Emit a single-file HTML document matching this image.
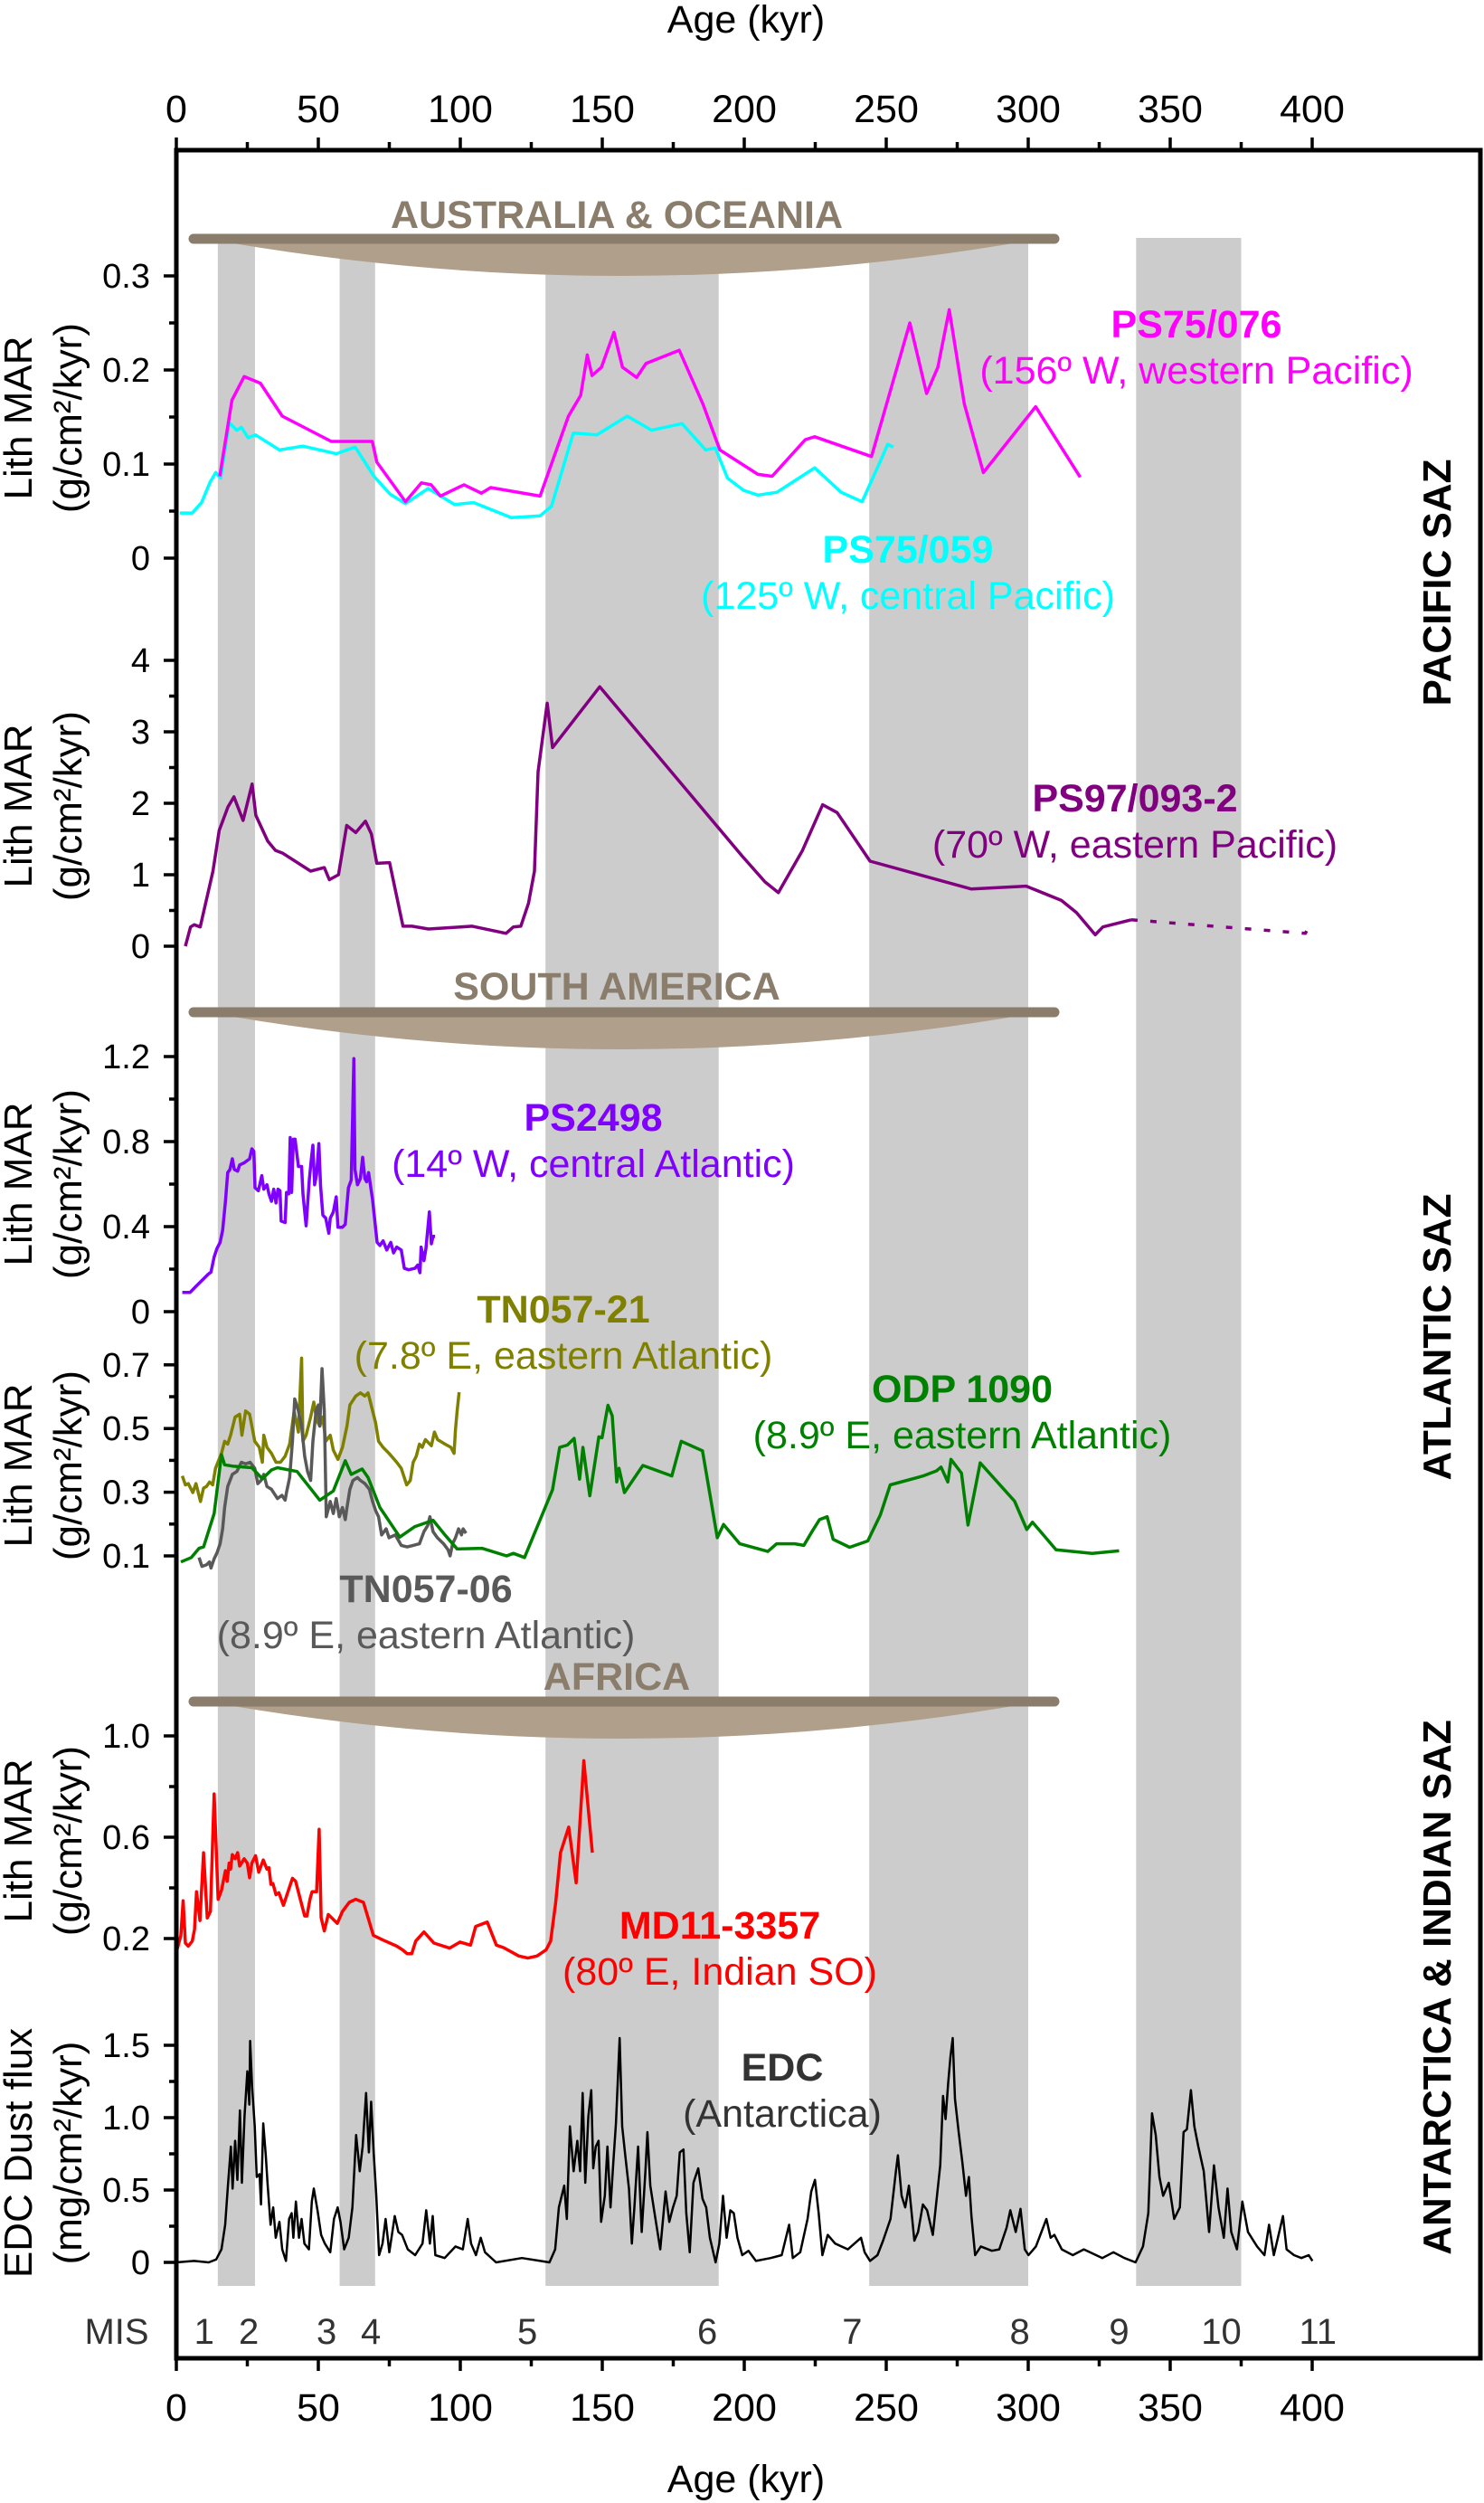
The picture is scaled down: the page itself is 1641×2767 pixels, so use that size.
<!DOCTYPE html>
<html><head><meta charset="utf-8"><style>
html,body{margin:0;padding:0;background:#fff}
svg{display:block;font-family:"Liberation Sans",Arial,sans-serif}
</style></head><body>
<svg id="chart" width="1641" height="2767" viewBox="0 0 1641 2767" xmlns="http://www.w3.org/2000/svg">
<g id="bands"></g>
<g id="bows"></g>
<g id="series"></g>
<g id="axes"></g>
<g id="labels"></g>
</svg>
<script>
// ---- data ----
const bandStarts=[14.6,57.5,130,244,338];
const bandEnds=[27.7,70,191,300,375];
const ageTicks=[0,50,100,150,200,250,300,350,400];
const misLabels=["1","2","3","4","5","6","7","8","9","10","11"];
const misAges=[9.8,25.5,52.9,68.5,123.6,187,238,297,332,368,402];

const ps076Age=[15.3,19.6,23.9,29.6,37.3,54.6,69.0,70.6,80.7,86.3,89.7,93.0,101.3,107.4,110.7,128.1,138.1,142.4,144.7,146.4,149.7,154.1,157.1,162.1,165.4,177.1,185.4,191.4,204.8,209.8,221.5,224.8,244.8,258.3,264.2,268.2,272.2,277.5,284.2,302.6,318.3];
const ps076Val=[0.087,0.168,0.193,0.186,0.151,0.124,0.124,0.102,0.060,0.080,0.078,0.066,0.078,0.069,0.075,0.066,0.151,0.173,0.216,0.194,0.203,0.240,0.203,0.192,0.207,0.221,0.164,0.115,0.089,0.087,0.126,0.129,0.108,0.250,0.175,0.203,0.264,0.164,0.091,0.161,0.086];
const ps059Age=[1.2,5.6,8.9,11.9,13.9,15.6,18.6,21.3,22.9,25.3,27.9,36.3,44.6,56.3,63.0,69.6,75.3,80.7,88.7,98.0,104.7,118.0,128.1,132.1,139.8,148.1,158.8,167.4,178.1,186.4,189.8,194.1,199.8,204.8,211.5,224.8,234.1,241.5,248.1,250.5,252.5];
const ps059Val=[0.048,0.048,0.059,0.081,0.091,0.085,0.144,0.136,0.139,0.128,0.131,0.115,0.119,0.111,0.118,0.087,0.068,0.058,0.074,0.057,0.059,0.043,0.045,0.055,0.133,0.131,0.151,0.136,0.143,0.115,0.117,0.085,0.072,0.067,0.070,0.096,0.070,0.060,0.104,0.121,0.118];
const ps97Age=[3.2,5.0,6.3,8.4,12.9,15.1,18.2,20.3,23.5,26.7,28.0,32.2,34.9,37.5,47.3,52.1,53.9,57.1,60.0,63.2,66.6,68.7,70.6,75.1,79.8,83.0,88.8,104.2,116.1,118.7,121.3,124.0,126.1,127.4,130.6,132.5,149.1,199.3,207.3,212.0,220.5,227.6,232.7,244.3,280.0,299.3,311.7,317.0,323.6,326.3,336.3];
const ps97Val=[0.0,0.27,0.30,0.27,1.05,1.62,1.95,2.09,1.76,2.27,1.83,1.47,1.34,1.30,1.05,1.10,0.93,1.00,1.69,1.59,1.75,1.57,1.16,1.17,0.28,0.28,0.24,0.28,0.18,0.27,0.28,0.60,1.05,2.44,3.40,2.78,3.63,1.26,0.90,0.75,1.34,1.98,1.87,1.19,0.80,0.84,0.64,0.47,0.16,0.27,0.37];
const ps97GapAge=[336.3,397.6,399.8];
const ps97GapVal=[0.37,0.18,0.35];
const ps2498Age=[2.1,4.8,6.9,9.0,11.2,12.2,13.3,14.3,15.4,16.3,17.3,18.1,18.9,19.7,20.4,21.6,22.3,23.9,25.0,25.8,26.6,27.3,27.7,28.9,30.1,30.8,31.9,32.6,33.5,34.3,35.1,35.8,36.5,36.9,38.3,38.8,39.6,40.1,40.6,41.2,41.8,43.0,44.1,44.6,45.7,46.8,47.5,48.1,48.7,49.4,50.2,50.8,51.6,52.6,53.7,54.2,55.3,56.3,56.9,58.5,59.5,60.6,61.6,62.5,62.9,63.8,64.8,65.6,66.4,67.0,67.7,69.1,70.7,71.7,72.8,74.1,75.5,76.5,77.6,79.2,80.3,81.8,84.0,85.0,85.8,86.2,87.2,87.9,89.1,89.8,90.4,91.1];
const ps2498Val=[0.090,0.090,0.119,0.147,0.176,0.186,0.257,0.297,0.326,0.383,0.519,0.654,0.669,0.719,0.669,0.661,0.690,0.700,0.711,0.719,0.766,0.754,0.583,0.569,0.640,0.576,0.597,0.554,0.519,0.576,0.511,0.576,0.569,0.426,0.419,0.561,0.554,0.819,0.561,0.811,0.811,0.683,0.683,0.554,0.404,0.619,0.711,0.783,0.597,0.647,0.790,0.590,0.454,0.440,0.369,0.440,0.469,0.540,0.397,0.397,0.411,0.583,0.619,1.190,0.669,0.597,0.626,0.726,0.626,0.611,0.654,0.526,0.326,0.311,0.333,0.290,0.326,0.276,0.304,0.290,0.204,0.197,0.204,0.219,0.183,0.304,0.240,0.297,0.469,0.319,0.354,0.354];
const tn21Age=[2.1,3.2,4.2,5.8,6.9,8.5,9.6,10.6,11.7,12.8,13.8,15.9,17.0,18.1,19.1,20.7,22.3,23.1,24.4,25.8,26.6,27.6,29.2,30.3,30.8,31.9,33.5,35.1,36.7,38.3,39.9,41.5,43.0,44.1,44.6,45.7,47.3,48.4,49.4,50.5,51.6,52.6,54.2,55.3,56.9,58.5,60.1,61.1,63.2,64.8,66.4,67.5,68.6,70.2,71.2,72.8,74.9,77.6,79.2,81.1,82.4,83.4,84.5,85.6,86.6,87.7,89.8,90.9,92.0,93.0,94.6,96.7,97.8,98.3,98.9,99.6];
const tn21Val=[0.351,0.323,0.327,0.299,0.327,0.271,0.313,0.318,0.332,0.323,0.375,0.422,0.460,0.451,0.479,0.536,0.545,0.479,0.555,0.545,0.508,0.460,0.441,0.394,0.479,0.441,0.422,0.394,0.394,0.413,0.451,0.555,0.489,0.721,0.460,0.479,0.536,0.583,0.527,0.508,0.536,0.460,0.479,0.432,0.403,0.441,0.508,0.574,0.602,0.612,0.602,0.612,0.574,0.517,0.460,0.441,0.422,0.394,0.375,0.323,0.337,0.394,0.413,0.451,0.441,0.465,0.446,0.489,0.465,0.460,0.451,0.441,0.422,0.498,0.555,0.614];
const tn06Age=[8.0,9.0,10.6,11.7,12.2,13.3,14.3,15.4,16.3,17.0,18.1,19.7,21.3,22.9,24.4,26.0,27.6,28.7,29.8,30.8,31.9,33.5,35.6,37.2,38.3,38.8,39.9,40.9,41.7,43.0,44.1,45.2,46.2,47.3,48.1,49.2,50.0,50.5,51.3,52.1,52.8,54.2,55.3,56.3,57.4,58.5,59.5,60.1,61.1,62.2,63.8,64.8,66.4,68.0,69.1,70.2,71.2,72.3,73.9,74.9,77.1,79.2,81.3,83.4,85.6,87.2,88.5,89.3,90.4,91.9,94.1,95.7,96.4,97.3,98.3,99.4,100.4,101.0,102.0];
const tn06Val=[0.095,0.067,0.072,0.081,0.062,0.091,0.109,0.138,0.185,0.252,0.318,0.356,0.365,0.394,0.389,0.394,0.375,0.327,0.337,0.356,0.318,0.309,0.280,0.290,0.275,0.299,0.346,0.460,0.593,0.555,0.508,0.413,0.365,0.337,0.460,0.555,0.574,0.508,0.688,0.555,0.223,0.271,0.233,0.280,0.223,0.252,0.214,0.252,0.309,0.337,0.346,0.337,0.327,0.309,0.271,0.242,0.223,0.166,0.185,0.157,0.166,0.133,0.128,0.133,0.138,0.176,0.195,0.223,0.176,0.157,0.138,0.119,0.100,0.138,0.157,0.185,0.166,0.185,0.171];
const odpAge=[1.6,5.3,8.0,9.6,13.3,15.9,17.0,19.7,26.6,30.3,31.9,33.5,35.6,42.5,50.5,55.3,59.5,61.6,65.4,67.5,71.7,78.7,84.0,90.4,94.6,98.9,107.6,116.3,118.7,122.6,132.5,135.0,137.7,140.1,142.0,143.2,145.6,148.8,149.9,152.0,153.5,155.1,155.9,157.8,164.3,174.5,177.8,185.3,190.5,192.7,198.4,208.3,211.4,217.8,221.0,224.1,226.5,229.2,231.3,237.1,243.5,247.9,251.4,263.0,267.7,269.3,271.7,272.8,276.5,278.8,283.1,295.2,299.5,301.5,309.8,322.5,332.0];
const odpVal=[0.081,0.095,0.124,0.128,0.233,0.418,0.386,0.382,0.377,0.342,0.356,0.370,0.377,0.365,0.275,0.304,0.399,0.356,0.373,0.346,0.252,0.159,0.192,0.212,0.166,0.122,0.124,0.100,0.108,0.095,0.308,0.441,0.448,0.469,0.341,0.441,0.289,0.474,0.471,0.573,0.540,0.332,0.375,0.299,0.384,0.351,0.460,0.430,0.157,0.199,0.138,0.114,0.138,0.138,0.133,0.180,0.214,0.223,0.152,0.127,0.147,0.228,0.323,0.351,0.367,0.379,0.332,0.403,0.360,0.197,0.392,0.272,0.183,0.206,0.119,0.108,0.116];
const md11Age=[0.3,1.6,2.4,3.2,4.2,5.6,6.4,7.1,8.3,9.6,10.9,12.0,13.3,14.7,15.9,17.3,17.9,18.6,19.1,19.7,20.7,21.6,22.3,23.9,25.0,25.8,26.6,27.9,29.0,30.6,31.9,32.6,33.3,34.0,35.1,36.1,37.7,40.9,42.0,45.2,46.0,47.1,47.8,49.4,50.3,51.0,52.1,53.5,56.7,58.5,60.9,63.2,65.9,69.4,72.8,77.6,79.7,81.3,82.9,84.3,87.2,90.7,96.2,99.9,103.6,105.4,109.5,112.7,115.3,120.6,123.8,127.0,130.2,131.8,133.6,135.3,138.2,140.8,143.5,146.5];
const md11Val=[0.158,0.212,0.349,0.182,0.170,0.190,0.236,0.385,0.271,0.539,0.281,0.307,0.771,0.355,0.390,0.468,0.426,0.498,0.474,0.531,0.515,0.539,0.486,0.515,0.498,0.440,0.498,0.527,0.462,0.510,0.474,0.480,0.414,0.417,0.373,0.381,0.331,0.438,0.426,0.289,0.289,0.357,0.385,0.385,0.631,0.283,0.230,0.295,0.260,0.307,0.343,0.355,0.343,0.212,0.194,0.170,0.155,0.140,0.140,0.190,0.226,0.182,0.162,0.186,0.174,0.248,0.265,0.174,0.164,0.131,0.123,0.131,0.155,0.190,0.343,0.539,0.640,0.420,0.902,0.539];
const edcAge=[0,6.2,11.4,14.0,15.9,17.2,18.1,19.2,19.8,20.7,21.5,22.4,23.1,24.0,25.0,25.7,26.0,26.7,27.6,28.3,29.3,29.8,30.6,31.5,32.1,33.2,34.1,35.0,36.3,37.3,38.6,39.7,40.6,41.2,42.1,43.2,44.1,45.1,46.7,47.7,48.4,49.7,51.0,52.3,54.2,55.5,56.8,57.8,59.1,60.7,62.0,63.3,64.6,65.6,66.8,67.8,68.6,69.5,70.4,71.4,72.6,73.7,75.0,76.9,78.2,79.5,81.5,84.1,86.7,88.0,89.3,90.3,91.2,94.5,98.3,100.9,102.6,103.8,105.5,107.2,108.7,112.6,121.7,128.2,131.4,133.4,134.7,136.6,137.5,138.6,139.9,141.2,142.2,143.1,144.0,145.1,146.1,146.8,147.7,148.7,149.6,150.9,151.8,152.9,153.9,154.8,156.1,157.0,158.1,159.4,160.4,161.3,162.6,163.9,165.2,165.9,166.9,168.4,170.4,172.3,173.6,174.9,176.2,177.3,178.6,179.6,180.8,182.1,183.8,185.3,186.6,187.9,189.9,191.2,192.5,193.8,195.1,196.3,197.6,199.3,201.5,204.1,209.3,213.2,215.8,217.1,219.7,222.3,223.6,224.9,226.2,227.5,229.4,232.0,236.5,241.1,242.4,244.3,246.9,248.9,251.5,253.4,254.1,255.4,256.7,258.0,259.9,261.2,262.9,264.4,266.4,269.0,270.0,270.9,271.8,272.6,273.4,274.2,275.5,276.8,278.1,279.1,280.0,281.3,283.3,287.2,289.8,292.4,293.7,295.6,297.3,298.8,300.1,302.7,306.4,307.9,309.2,311.8,315.7,319.6,326.1,330.0,333.9,337.8,340.4,342.3,343.6,344.9,346.2,347.5,349.5,351.4,353.4,354.7,355.9,357.3,358.5,359.9,361.8,363.7,365.4,367.0,368.9,370.2,371.5,373.5,375.4,377.4,380.6,383.2,384.8,386.5,389.7,391.0,393.6,396.2,398.8,400.1];
const edcVal=[0.00,0.01,0.00,0.02,0.09,0.26,0.51,0.80,0.51,0.84,0.57,1.05,0.55,1.01,1.32,1.09,1.53,1.21,0.94,0.59,0.61,0.40,0.96,0.74,0.55,0.26,0.38,0.17,0.28,0.09,0.01,0.30,0.34,0.17,0.42,0.17,0.30,0.13,0.09,0.42,0.51,0.36,0.19,0.13,0.07,0.30,0.38,0.28,0.09,0.17,0.38,0.88,0.63,0.80,1.17,0.76,1.11,0.76,0.46,0.05,0.13,0.30,0.07,0.32,0.21,0.19,0.09,0.05,0.13,0.36,0.13,0.32,0.05,0.03,0.11,0.09,0.30,0.13,0.05,0.17,0.07,0.00,0.03,0.01,0.00,0.09,0.38,0.53,0.30,0.94,0.63,0.84,0.63,1.17,0.55,1.01,1.19,0.65,0.80,0.84,0.28,0.46,0.80,0.38,0.69,0.96,1.55,0.94,0.74,0.51,0.13,0.38,0.80,0.21,0.63,0.90,0.53,0.34,0.09,0.49,0.28,0.38,0.46,0.76,0.78,0.34,0.07,0.55,0.65,0.44,0.38,0.17,0.00,0.13,0.46,0.17,0.36,0.34,0.17,0.05,0.08,0.01,0.03,0.05,0.26,0.03,0.07,0.30,0.49,0.57,0.34,0.05,0.19,0.13,0.09,0.17,0.07,0.01,0.05,0.15,0.30,0.63,0.74,0.46,0.38,0.53,0.15,0.21,0.40,0.36,0.19,0.67,1.15,0.99,1.24,1.42,1.55,1.13,0.90,0.69,0.46,0.59,0.32,0.05,0.11,0.08,0.09,0.24,0.36,0.21,0.37,0.09,0.05,0.11,0.30,0.17,0.19,0.09,0.05,0.09,0.03,0.07,0.03,0.00,0.11,0.34,1.03,0.88,0.59,0.46,0.55,0.30,0.38,0.90,0.92,1.19,0.94,0.80,0.63,0.21,0.67,0.38,0.17,0.51,0.21,0.09,0.42,0.21,0.11,0.05,0.26,0.05,0.32,0.09,0.05,0.03,0.05,0.01];

// ---- scales ----
const NS='http://www.w3.org/2000/svg';
function xs(a){return 195+a*3.14;}
const panels=[
 {v0:0,y0:617,k:1040,ticks:[0,0.1,0.2,0.3],tl:["0","0.1","0.2","0.3"],minor:[0.05,0.15,0.25],ylab:462,l1:"Lith MAR",l2:"(g/cm²/kyr)"},
 {v0:0,y0:1046,k:79,ticks:[0,1,2,3,4],tl:["0","1","2","3","4"],minor:[0.5,1.5,2.5,3.5],ylab:891,l1:"Lith MAR",l2:"(g/cm²/kyr)"},
 {v0:0,y0:1450,k:235,ticks:[0,0.4,0.8,1.2],tl:["0","0.4","0.8","1.2"],minor:[0.2,0.6,1.0],ylab:1309,l1:"Lith MAR",l2:"(g/cm²/kyr)"},
 {v0:0.1,y0:1720,k:352,ticks:[0.1,0.3,0.5,0.7],tl:["0.1","0.3","0.5","0.7"],minor:[0.2,0.4,0.6],ylab:1620,l1:"Lith MAR",l2:"(g/cm²/kyr)"},
 {v0:0.2,y0:2143,k:280,ticks:[0.2,0.6,1.0],tl:["0.2","0.6","1.0"],minor:[0.4,0.8],ylab:2035,l1:"Lith MAR",l2:"(g/cm²/kyr)"},
 {v0:0,y0:2501,k:160,ticks:[0,0.5,1.0,1.5],tl:["0","0.5","1.0","1.5"],minor:[0.25,0.75,1.25],ylab:2380,l1:"EDC Dust flux",l2:"(mg/cm²/kyr)"}
];
function ys(p,v){return panels[p].y0-(v-panels[p].v0)*panels[p].k;}
function mk(tag,attrs,parent){const e=document.createElementNS(NS,tag);for(const k in attrs)e.setAttribute(k,attrs[k]);parent.appendChild(e);return e;}

// bands
const gB=document.getElementById('bands');
for(let i=0;i<bandStarts.length;i++){
 const r=mk('rect',{x:xs(bandStarts[i]),y:263,width:xs(bandEnds[i])-xs(bandStarts[i]),height:2527-263,fill:'#cccccc'},gB);
 
 
}

// bows
const gW=document.getElementById('bows');
function bow(y,dip,name,label,ly){
 const g=mk('g',{},gW);
 
 
 mk('path',{d:`M240 ${y+2} Q688 ${y+2*dip} 1138 ${y+2} Z`,fill:'#b09f8a'},g);
 mk('line',{x1:214,y1:y,x2:1166,y2:y,stroke:'#8a7d6b','stroke-width':11,'stroke-linecap':'round'},g);
 const t=mk('text',{x:682,y:ly,'text-anchor':'middle','font-size':43,'font-weight':'bold',fill:'#8a7d6b'},g);
 t.textContent=label;
 
 
}
bow(264,40,'australia-oceania-bow','AUSTRALIA & OCEANIA',252);
bow(1119,40,'south-america-bow','SOUTH AMERICA',1105);
bow(1881,40,'africa-bow','AFRICA',1868);

// series
const gS=document.getElementById('series');
function line(p,ages,vals,color,w,name,dash){
 let d='';
 for(let i=0;i<ages.length;i++){d+=(i?'L':'M')+xs(ages[i]).toFixed(1)+' '+ys(p,vals[i]).toFixed(1);}
 const e=mk('path',{d:d,fill:'none',stroke:color,'stroke-width':w,'stroke-linejoin':'round'},gS);
 if(dash)e.setAttribute('stroke-dasharray',dash);
 
 
}
line(0,ps059Age,ps059Val,'#00ffff',3.5,'ps75-059-line');
line(0,ps076Age,ps076Val,'#ff00ff',3.5,'ps75-076-line');
line(1,ps97Age,ps97Val,'#800080',3.5,'ps97-093-2-line');
line(1,ps97GapAge,ps97GapVal,'#800080',3.5,'ps97-093-2-dotted-line','7 14');
line(2,ps2498Age,ps2498Val,'#7f00ff',3.5,'ps2498-line');
line(3,tn21Age,tn21Val,'#808000',3.5,'tn057-21-line');
line(3,tn06Age,tn06Val,'#595959',3.5,'tn057-06-line');
line(3,odpAge,odpVal,'#008000',3.5,'odp1090-line');
line(4,md11Age,md11Val,'#ff0000',3.5,'md11-3357-line');
line(5,edcAge,edcVal,'#000000',2.5,'edc-dust-line');

// axes
const gA=document.getElementById('axes');
const fr=mk('rect',{x:195,y:166,width:1442,height:2441,fill:'none',stroke:'#000','stroke-width':5},gA);


for(let a=0;a<=400;a+=25){
 const major=a%50===0;const L=major?14:9;
 mk('line',{x1:xs(a),y1:166,x2:xs(a),y2:166-L,stroke:'#000','stroke-width':3.5},gA);
 mk('line',{x1:xs(a),y1:2607,x2:xs(a),y2:2607+L,stroke:'#000','stroke-width':3.5},gA);
}
ageTicks.forEach(a=>{
 const t=mk('text',{x:xs(a),y:135,'text-anchor':'middle','font-size':43},gA);t.textContent=a;
 
 
 const b=mk('text',{x:xs(a),y:2676,'text-anchor':'middle','font-size':43},gA);b.textContent=a;
 
 
});
const tt=mk('text',{x:825,y:36,'text-anchor':'middle','font-size':43},gA);tt.textContent='Age (kyr)';


const bt=mk('text',{x:825,y:2755,'text-anchor':'middle','font-size':43},gA);bt.textContent='Age (kyr)';



panels.forEach((P,pi)=>{
 P.ticks.forEach((v,i)=>{
  mk('line',{x1:181,y1:ys(pi,v),x2:195,y2:ys(pi,v),stroke:'#000','stroke-width':3.5},gA);
  const t=mk('text',{x:166,y:ys(pi,v)+13,'text-anchor':'end','font-size':38},gA);t.textContent=P.tl[i];
  
  
 });
 P.minor.forEach(v=>{mk('line',{x1:187,y1:ys(pi,v),x2:195,y2:ys(pi,v),stroke:'#000','stroke-width':3.5},gA);});
 const g=mk('g',{transform:`translate(0 ${P.ylab}) rotate(-90)`},gA);
 
 
 const a=mk('text',{x:0,y:35,'text-anchor':'middle','font-size':44},g);a.textContent=P.l1;
 const b=mk('text',{x:0,y:90,'text-anchor':'middle','font-size':44},g);b.textContent=P.l2;
});

// MIS
const gL=document.getElementById('labels');
const mis=mk('text',{x:129,y:2591,'text-anchor':'middle','font-size':40,fill:'#333'},gL);mis.textContent='MIS';


misLabels.forEach((m,i)=>{
 const t=mk('text',{x:xs(misAges[i]),y:2591,'text-anchor':'middle','font-size':40,fill:'#333'},gL);t.textContent=m;
 
 
});

// series labels
function lab(x,y,t1,t2,color,name){
 const g=mk('g',{},gL);
 
 
 const a=mk('text',{x:x,y:y,'text-anchor':'middle','font-size':43,'font-weight':'bold',fill:color},g);a.textContent=t1;
 const b=mk('text',{x:x,y:y+51,'text-anchor':'middle','font-size':43,fill:color},g);b.textContent=t2;
}
lab(1323,373,'PS75/076','(156º W, western Pacific)','#ff00ff','ps75-076-label');
lab(1004,622,'PS75/059','(125º W, central Pacific)','#00ffff','ps75-059-label');
lab(1255,897,'PS97/093-2','(70º W, eastern Pacific)','#800080','ps97-093-2-label');
lab(656,1250,'PS2498','(14º W, central Atlantic)','#7f00ff','ps2498-label');
lab(623,1462,'TN057-21','(7.8º E, eastern Atlantic)','#808000','tn057-21-label');
lab(1064,1550,'ODP 1090','(8.9º E, eastern Atlantic)','#008000','odp1090-label');
lab(471,1771,'TN057-06','(8.9º E, eastern Atlantic)','#595959','tn057-06-label');
lab(796,2143,'MD11-3357','(80º E, Indian SO)','#ff0000','md11-3357-label');
lab(865,2300,'EDC','(Antarctica)','#333333','edc-label');

// region labels
function reg(y,t,name){
 const e=mk('text',{x:0,y:0,transform:`translate(1604 ${y}) rotate(-90)`,'text-anchor':'middle','font-size':44,'font-weight':'bold'},gL);
 e.textContent=t;
 
 
}
reg(644,'PACIFIC SAZ','pacific-saz-label');
reg(1478,'ATLANTIC SAZ','atlantic-saz-label');
reg(2197,'ANTARCTICA & INDIAN SAZ','antarctica-indian-saz-label');
</script>
</body></html>
